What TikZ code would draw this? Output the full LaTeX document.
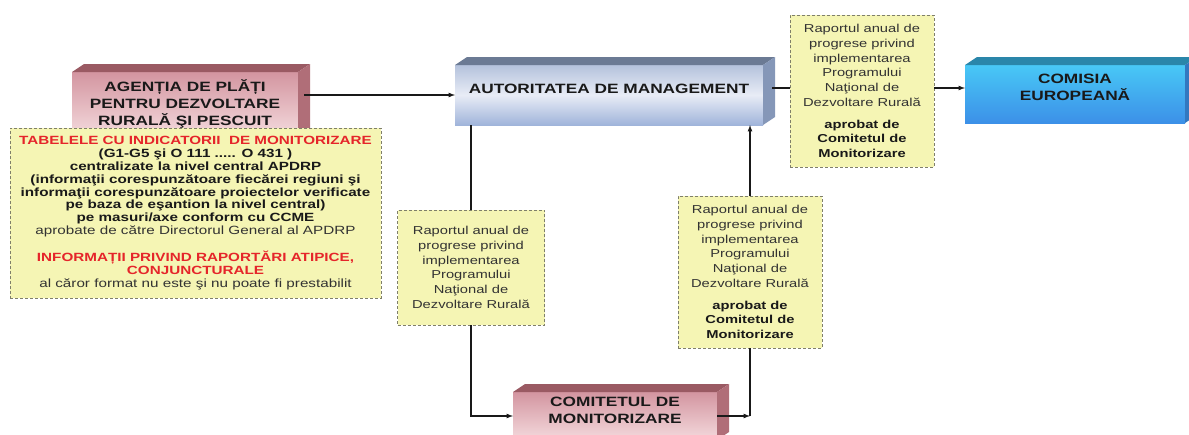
\documentclass[tikz,border=0pt]{standalone}
\usepackage{fontspec}
\setmainfont[FakeStretch=1.28]{Liberation Sans}
\definecolor{pkA}{HTML}{D395A0}
\definecolor{pkB}{HTML}{F4DADD}
\definecolor{pkT}{HTML}{9A5A63}
\definecolor{pkS}{HTML}{B06E78}
\definecolor{blA}{HTML}{B4C2DC}
\definecolor{blM}{HTML}{E8ECF6}
\definecolor{blB}{HTML}{A0B4DA}
\definecolor{blT}{HTML}{6B7A94}
\definecolor{blS}{HTML}{8597B8}
\definecolor{cyA}{HTML}{48C8F6}
\definecolor{cyB}{HTML}{3C90E8}
\definecolor{cyT}{HTML}{2A86AA}
\definecolor{cyS}{HTML}{3278C0}
\definecolor{ylF}{HTML}{F5F5B4}
\definecolor{ylD}{HTML}{7F7F6A}
\definecolor{rd}{HTML}{E5252A}
\definecolor{txt}{HTML}{333333}

\begin{document}
\begin{tikzpicture}[x=1pt,y=-1pt,
    hd/.style={font=\fontsize{13.5}{16.7}\selectfont\bfseries,text=black!90,align=center,inner sep=0pt,outer sep=0pt},
    pk/.style={hd,top color=pkA,bottom color=pkB},
    yel/.style={draw=ylD,fill=ylF,dash pattern=on 3pt off 2pt,line width=0.8pt,align=center,inner sep=0pt,outer sep=0pt,text=txt,font=\fontsize{11.5}{14.7}\selectfont},
    con/.style={line width=1.2pt,draw=black!90}]
      \useasboundingbox (0,0) rectangle (1189,434);
      \node[pk,minimum width=226pt,minimum height=64pt] (apd) at (185,104) {AGENȚIA DE PLĂȚI\\PENTRU DEZVOLTARE\\RURALĂ ŞI PESCUIT};
      \node[hd,top color=blA,bottom color=blB,middle color=blM,minimum width=308pt,minimum height=60pt] (am) at (609,95) {AUTORITATEA DE MANAGEMENT\\[-4.7pt]\mbox{}};
      \node[pk,minimum width=204pt,minimum height=48pt] (com) at (615,416) {COMITETUL DE\\MONITORIZARE\\[-4.7pt]\mbox{}};
      \node[hd,top color=cyA,bottom color=cyB,minimum width=220pt,minimum height=58pt] (ce) at (1075,94) {COMISIA\\EUROPEANĂ\\[-2.7pt]\mbox{}};
      \foreach \n/\t/\s in {apd/pkT/pkS,com/pkT/pkS,am/blT/blS,ce/cyT/cyS}{
        \fill[\t] (\n.north west) -- ++(12,-8) -- ([shift={(12,-8)}]\n.north east) -- (\n.north east) -- cycle;
        \fill[\s] (\n.north east) -- ++(12,-8) -- ([shift={(12,-8)}]\n.south east) -- (\n.south east) -- cycle;
      }
      \node[yel,font=\fontsize{11.9}{12.9}\selectfont,minimum width=371pt,minimum height=170pt] (tab) at (195.5,213) {%
        {\color{rd}\bfseries TABELELE CU INDICATORII\ \ DE MONITORIZARE}\\
        {\bfseries\color{black!90}(G1-G5 şi O 111 ..... O 431 )}\\
        {\bfseries\color{black!90}centralizate la nivel central APDRP}\\
        {\bfseries\color{black!90}(informaţii corespunzătoare fiecărei regiuni şi}\\
        {\bfseries\color{black!90}informaţii corespunzătoare proiectelor verificate}\\
        {\bfseries\color{black!90}pe baza de eşantion la nivel central)}\\
        {\bfseries\color{black!90}pe masuri/axe conform cu CCME}\\
        aprobate de către Directorul General al APDRP\\[12.9pt]
        {\color{rd}\bfseries INFORMAȚII PRIVIND RAPORTĂRI ATIPICE,}\\
        {\color{rd}\bfseries CONJUNCTURALE}\\
        al căror format nu este şi nu poate fi prestabilit};
      \node[yel,minimum width=147pt,minimum height=115pt] (ra1) at (471,267.5) {Raportul anual de\\progrese privind\\implementarea\\Programului\\Naţional de\\Dezvoltare Rurală};
      \node[yel,minimum width=144pt,minimum height=152pt] (ra2) at (750,272) {Raportul anual de\\progrese privind\\implementarea\\Programului\\Naţional de\\Dezvoltare Rurală\\[7pt]{\bfseries\color{black!90}aprobat de}\\{\bfseries\color{black!90}Comitetul de}\\{\bfseries\color{black!90}Monitorizare}};
      \node[yel,minimum width=144pt,minimum height=152pt] (ra3) at (862,91) {Raportul anual de\\progrese privind\\implementarea\\Programului\\Naţional de\\Dezvoltare Rurală\\[7pt]{\bfseries\color{black!90}aprobat de}\\{\bfseries\color{black!90}Comitetul de}\\{\bfseries\color{black!90}Monitorizare}};
      \coordinate (amr) at ([xshift=9pt,yshift=7pt]am.east);
      \draw[con,-latex] ([xshift=6pt]apd.east |- am.west) -- (am.west);
      \draw[con] (am.south -| ra1.north) -- (ra1.north);
      \draw[con,-latex] (ra1.south) |- (com.west);
      \draw[con,-latex] (com.east) -- (com.east -| ra2.south);
      \draw[con] (com.east -| ra2.south) -- (ra2.south);
      \draw[con,-latex] (ra2.north) -- (ra2.north |- am.south);
      \draw[con] (amr) -- (amr -| ra3.west);
      \draw[con,-latex] (amr -| ra3.east) -- (amr -| ce.west);
    \end{tikzpicture}
\end{document}
